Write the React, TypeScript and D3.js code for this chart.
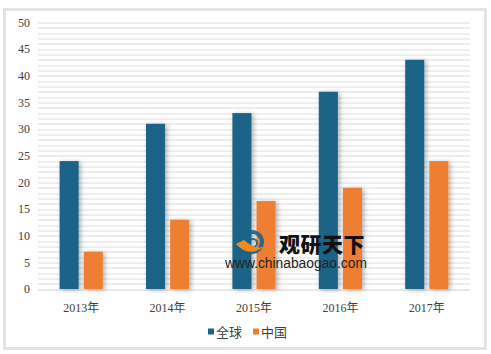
import { useEffect, useRef } from "react";
import * as d3 from "d3";

const years = ["2013年", "2014年", "2015年", "2016年", "2017年"];
const globalValues = [24, 31, 33, 37, 43];
const chinaValues = [7, 13, 16.5, 19, 24];
const seriesNames = ["全球", "中国"];
const yTicks = [0, 5, 10, 15, 20, 25, 30, 35, 40, 45, 50];

export default function App() {
  const svgRef = useRef<SVGSVGElement>(null);

  useEffect(() => {
    if (!svgRef.current) return;
    const svg = d3.select(svgRef.current);
    svg.selectAll("*").remove();

    const width = 491;
    const height = 354;
    const margin = { top: 22.5, right: 21, bottom: 65, left: 38 };
    const chartW = width - margin.left - margin.right;
    const chartH = height - margin.top - margin.bottom;
    const colors = ["#1b6488", "#ee7f32"];
    const font = "'Liberation Serif', 'Noto Sans CJK SC', serif";

    // frame
    svg
      .append("rect")
      .attr("x", 4.5)
      .attr("y", 9.5)
      .attr("width", 481)
      .attr("height", 339)
      .attr("fill", "#fff")
      .attr("stroke", "#e3e3e3")
      .attr("stroke-width", 3);

    const defs = svg.append("defs");
    const f = defs
      .append("filter")
      .attr("id", "shadow")
      .attr("x", "-50%")
      .attr("y", "-20%")
      .attr("width", "200%")
      .attr("height", "140%");
    f.append("feDropShadow")
      .attr("dx", 2)
      .attr("dy", 1)
      .attr("stdDeviation", 2.5)
      .attr("flood-color", "#000")
      .attr("flood-opacity", 0.3);

    const x = d3.scaleBand().domain(years).range([0, chartW]).paddingInner(0.5).paddingOuter(0.25);
    const sub = d3.scaleBand().domain(seriesNames).range([0, x.bandwidth()]).paddingInner(0.21);
    const y = d3.scaleLinear().domain([0, 50]).range([chartH, 0]);

    const g = svg.append("g").attr("transform", `translate(${margin.left},${margin.top})`);

    // gridlines every 1 unit
    g.selectAll(".grid")
      .data(d3.range(0, 51))
      .join("line")
      .attr("x1", 0)
      .attr("x2", chartW)
      .attr("y1", (d) => Math.round(y(d)) + 0.5)
      .attr("y2", (d) => Math.round(y(d)) + 0.5)
      .attr("stroke", (d) => (d === 0 ? "#d0d0d0" : "#dcdcdc"))
      .attr("stroke-width", 1);

    // y labels
    g.selectAll(".ylab")
      .data(yTicks)
      .join("text")
      .attr("x", -8)
      .attr("y", (d) => y(d))
      .attr("dy", "0.35em")
      .attr("text-anchor", "end")
      .attr("fill", "#404040")
      .attr("font-family", font)
      .attr("font-size", "12px")
      .text((d) => d);

    const series = [globalValues, chinaValues];
    series.forEach((vals, si) => {
      g.selectAll(`.bar${si}`)
        .data(vals)
        .join("rect")
        .attr("x", (_, i) => x(years[i])! + sub(seriesNames[si])!)
        .attr("y", (d) => y(d))
        .attr("width", sub.bandwidth())
        .attr("height", (d) => chartH - y(d))
        .attr("fill", colors[si])
        .attr("filter", "url(#shadow)");
    });

    // x labels
    g.selectAll(".xlab")
      .data(years)
      .join("text")
      .attr("x", (d) => x(d)! + x.bandwidth() / 2)
      .attr("y", chartH + 23)
      .attr("text-anchor", "middle")
      .attr("fill", "#404040")
      .attr("font-family", font)
      .attr("font-size", "12px")
      .text((d) => d);

    // legend
    const legend = svg.append("g").attr("transform", "translate(208,332)");
    const offsets = [0, 45];
    seriesNames.forEach((name, i) => {
      const lg = legend.append("g").attr("transform", `translate(${offsets[i]},0)`);
      lg.append("rect").attr("x", 0).attr("y", -3.5).attr("width", 6).attr("height", 6).attr("fill", colors[i]);
      lg.append("text")
        .attr("x", 8)
        .attr("y", 0)
        .attr("dy", "0.38em")
        .attr("fill", "#404040")
        .attr("font-family", "'Noto Sans CJK SC', sans-serif")
        .attr("font-size", "13px")
        .text(name);
    });

    // watermark
    const wm = svg.append("g").attr("transform", "translate(252,244)");
    wm.append("circle").attr("cx", 0).attr("cy", -2).attr("r", 10).attr("fill", "none").attr("stroke", "#1b6488").attr("stroke-width", 4).attr("opacity", 0.9);
    wm.append("circle").attr("cx", 1).attr("cy", -1).attr("r", 4).attr("fill", "none").attr("stroke", "#1b6488").attr("stroke-width", 2).attr("opacity", 0.9);
    wm.append("path").attr("d", "M-16,0 Q0,18 22,-6 Q10,12 -8,-4 Z").attr("fill", "#f08a1c");
    wm.append("text")
      .attr("x", 27)
      .attr("y", 8)
      .attr("font-family", "'Noto Sans CJK SC', sans-serif")
      .attr("font-weight", "900")
      .attr("font-size", "21px")
      .attr("fill", "#111")
      .attr("letter-spacing", "0.5px")
      .text("观研天下");
    wm.append("text")
      .attr("x", -27)
      .attr("y", 24)
      .attr("font-family", "'Liberation Sans', Arial, sans-serif")
      .attr("font-size", "13.8px")
      .attr("fill", "#222")
      .text("www.chinabaogao.com");
  }, []);

  return (
    <svg
      ref={svgRef}
      width={491}
      height={354}
      style={{ position: "absolute", left: 0, top: 0 }}
      role="img"
      aria-label="全球与中国 2013-2017 柱状图"
    />
  );
}
